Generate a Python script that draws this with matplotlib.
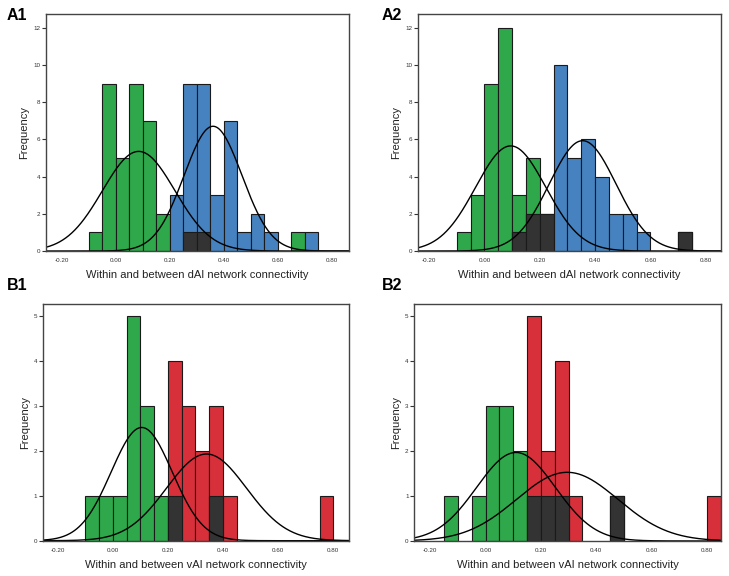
import numpy as np
import matplotlib
matplotlib.use("Agg")
import matplotlib.pyplot as plt

plt.rcParams['font.family'] = ['Liberation Sans', 'DejaVu Sans']

GREEN = '#2ea84a'
BLUE = '#4682bf'
RED = '#d8303a'
DARK = '#333333'
BW = 0.05

# A1 - dAI, green vs blue
a1_green_x = [-0.10, -0.05, 0.00, 0.05, 0.10, 0.15, 0.25, 0.30, 0.65]
a1_green_n = [1, 9, 5, 9, 7, 2, 1, 1, 1]
a1_blue_x = [0.20, 0.25, 0.30, 0.35, 0.40, 0.45, 0.50, 0.55, 0.70]
a1_blue_n = [3, 9, 9, 3, 7, 1, 2, 1, 1]
a1_fit = [(0.085, 0.134), (0.36, 0.107)]

# A2 - dAI
a2_green_x = [-0.10, -0.05, 0.00, 0.05, 0.10, 0.15, 0.20, 0.70]
a2_green_n = [1, 3, 9, 12, 3, 5, 2, 1]
a2_blue_x = [0.10, 0.15, 0.20, 0.25, 0.30, 0.35, 0.40, 0.45, 0.50, 0.55, 0.70]
a2_blue_n = [1, 2, 2, 10, 5, 6, 4, 2, 2, 1, 1]
a2_fit = [(0.095, 0.127), (0.355, 0.121)]

# B1 - vAI, green vs red
b1_green_x = [-0.10, -0.05, 0.00, 0.05, 0.10, 0.15, 0.20, 0.35]
b1_green_n = [1, 1, 1, 5, 3, 1, 1, 1]
b1_red_x = [0.20, 0.25, 0.30, 0.35, 0.40, 0.75]
b1_red_n = [4, 3, 2, 3, 1, 1]
b1_fit = [(0.105, 0.111), (0.34, 0.145)]

# B2 - vAI
b2_green_x = [-0.15, -0.05, 0.00, 0.05, 0.10, 0.15, 0.20, 0.25, 0.45]
b2_green_n = [1, 1, 3, 3, 2, 1, 1, 1, 1]
b2_red_x = [0.15, 0.20, 0.25, 0.30, 0.45, 0.80]
b2_red_n = [5, 2, 4, 1, 1, 1]
b2_fit = [(0.11, 0.142), (0.295, 0.183)]

xticks = [-0.20, 0.00, 0.20, 0.40, 0.60, 0.80]


def panel(ax, gx, gn, ox, on, ocol, fit, xlim, ylim, yticks, xlabel):
    ax.bar(gx, gn, width=BW, align='edge', color=GREEN, edgecolor='#1a1a1a', lw=0.8)
    ax.bar(ox, on, width=BW, align='edge', color=ocol, edgecolor='#1a1a1a', lw=0.8)
    # overlap = min of the two counts in a bin
    g = dict(zip(np.round(gx, 2), gn))
    o = dict(zip(np.round(ox, 2), on))
    both = sorted(set(g) & set(o))
    ax.bar(both, [min(g[k], o[k]) for k in both], width=BW, align='edge',
           color=DARK, edgecolor='#1a1a1a', lw=0.8)
    xs = np.linspace(xlim[0], xlim[1], 400)
    for (mu, sd), n in zip(fit, [sum(gn), sum(on)]):
        ys = n * BW * np.exp(-0.5 * ((xs - mu) / sd) ** 2) / (sd * np.sqrt(2 * np.pi))
        ax.plot(xs, ys, color='black', lw=1.0)
    ax.set_xlim(*xlim)
    ax.set_ylim(*ylim)
    ax.set_xticks(xticks)
    ax.set_xticklabels([f'{t:.2f}' for t in xticks])
    ax.set_yticks(yticks)
    ax.tick_params(axis='x', length=0, labelsize=4.5, pad=5, colors='#333333')
    ax.tick_params(axis='y', length=3, width=0.8, labelsize=4.5, pad=1, colors='#333333')
    for s in ax.spines.values():
        s.set_color('#444444')
        s.set_linewidth(1.0)
    ax.set_xlabel(xlabel, fontsize=8, color='#222222', labelpad=5)
    ax.set_ylabel('Frequency', fontsize=8, color='#222222', labelpad=3)


fig = plt.figure(figsize=(7.29, 5.76), dpi=100)
ax1 = fig.add_axes([0.0631, 0.5642, 0.4156, 0.4115])
ax2 = fig.add_axes([0.5730, 0.5642, 0.4160, 0.4115])
ax3 = fig.add_axes([0.0590, 0.0613, 0.4198, 0.4110])
ax4 = fig.add_axes([0.5680, 0.0608, 0.4210, 0.4110])

panel(ax1, a1_green_x, a1_green_n, a1_blue_x, a1_blue_n, BLUE, a1_fit,
      (-0.258, 0.863), (0, 12.75), range(0, 13, 2),
      'Within and between dAI network connectivity')
panel(ax2, a2_green_x, a2_green_n, a2_blue_x, a2_blue_n, BLUE, a2_fit,
      (-0.241, 0.855), (0, 12.75), range(0, 13, 2),
      'Within and between dAI network connectivity')
panel(ax3, b1_green_x, b1_green_n, b1_red_x, b1_red_n, RED, b1_fit,
      (-0.253, 0.857), (0, 5.26), range(0, 6),
      'Within and between vAI network connectivity')
panel(ax4, b2_green_x, b2_green_n, b2_red_x, b2_red_n, RED, b2_fit,
      (-0.258, 0.85), (0, 5.26), range(0, 6),
      'Within and between vAI network connectivity')

for lbl, x, y in [('A1', 7, 20), ('A2', 382, 20), ('B1', 7, 290), ('B2', 382, 290)]:
    fig.text(x / 729, 1 - y / 576, lbl, fontsize=11.5, fontweight='bold',
             ha='left', va='baseline')

fig.savefig('out.png', dpi=100)
